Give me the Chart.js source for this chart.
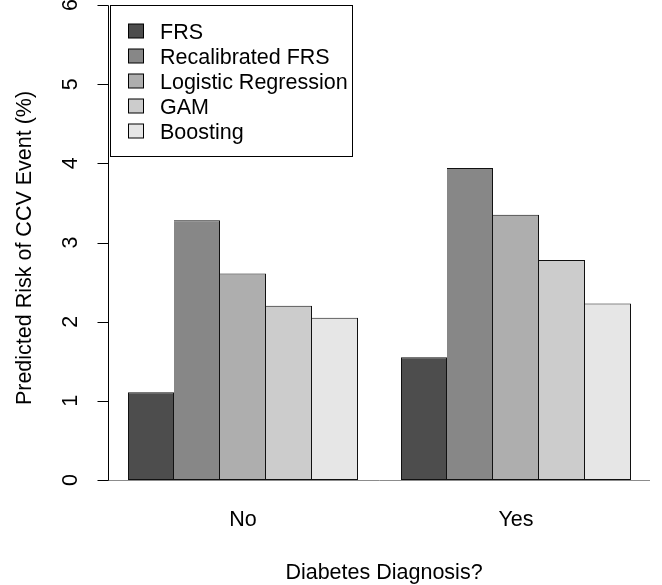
<!DOCTYPE html>
<html>
<head>
<meta charset="utf-8">
<title>Predicted Risk of CCV Event</title>
<script src="https://cdn.jsdelivr.net/npm/chart.js@4/dist/chart.umd.min.js"></script>
<style>
    html, body { margin: 0; padding: 0; background: #ffffff; }
    #wrap { width: 662px; height: 585px; position: relative; }
</style>
</head>
<body>
<div id="wrap"><canvas id="riskChart"></canvas></div>
<script>
// Data
const categories = ['No', 'Yes'];
const seriesNames = ['FRS', 'Recalibrated FRS', 'Logistic Regression', 'GAM', 'Boosting'];
const frs = [1.11, 1.55];
const recalFrs = [3.28, 3.94];
const logistic = [2.61, 3.35];
const gam = [2.20, 2.78];
const boosting = [2.05, 2.23];
const yTicks = [0, 1, 2, 3, 4, 5, 6];

const seriesValues = [frs, recalFrs, logistic, gam, boosting];
const fills = ['#4D4D4D', '#878787', '#AEAEAE', '#CCCCCC', '#E6E6E6'];

const FONT = '21.5px "Liberation Sans", Arial, Helvetica, sans-serif';

// R-style axes, titles and the boxed legend, drawn from the chart's scales
const baseAxes = {
    id: 'baseAxes',
    beforeDatasetsDraw(chart) {
        const { ctx, chartArea, scales } = chart;
        const y0 = Math.round(scales.y.getPixelForValue(0)) + 0.5;
        ctx.save();
        ctx.strokeStyle = '#8c8c8c';
        ctx.lineWidth = 1;
        ctx.beginPath();
        ctx.moveTo(chartArea.left + 2, y0);
        ctx.lineTo(chartArea.right - 2.5, y0);
        ctx.stroke();
        ctx.restore();
    },
    afterDraw(chart) {
        const { ctx, scales } = chart;
        const ys = scales.y;
        const xs = scales.x;
        const axisX = 108.5;

        ctx.save();
        ctx.strokeStyle = '#000000';
        ctx.fillStyle = '#000000';
        ctx.lineWidth = 1;
        ctx.font = FONT;

        // y axis line + ticks
        const top = Math.round(ys.getPixelForValue(yTicks[yTicks.length - 1])) + 0.5;
        const bottom = Math.round(ys.getPixelForValue(yTicks[0])) + 0.5;
        ctx.beginPath();
        ctx.moveTo(axisX, top);
        ctx.lineTo(axisX, bottom);
        yTicks.forEach(v => {
            const py = Math.round(ys.getPixelForValue(v)) + 0.5;
            ctx.moveTo(axisX, py);
            ctx.lineTo(axisX - 11, py);
        });
        ctx.stroke();

        // y tick labels, parallel to the axis
        ctx.textAlign = 'center';
        ctx.textBaseline = 'alphabetic';
        yTicks.forEach(v => {
            ctx.save();
            ctx.translate(77, ys.getPixelForValue(v));
            ctx.rotate(-Math.PI / 2);
            ctx.fillText(String(v), 0, 0);
            ctx.restore();
        });

        // y title
        ctx.save();
        ctx.translate(31, 248);
        ctx.rotate(-Math.PI / 2);
        ctx.fillText('Predicted Risk of CCV Event (%)', 0, 0);
        ctx.restore();

        // x category labels and title
        categories.forEach((c, i) => {
            ctx.fillText(c, xs.getPixelForValue(i), 526);
        });
        ctx.fillText('Diabetes Diagnosis?', 384, 579);

        // legend box (top left of plot)
        ctx.fillStyle = '#ffffff';
        ctx.fillRect(110.5, 5.5, 242, 151);
        ctx.strokeRect(110.5, 5.5, 242, 151);
        ctx.textAlign = 'left';
        chart.data.datasets.forEach((ds, i) => {
            const cy = 31 + i * 25;
            ctx.fillStyle = ds.backgroundColor;
            ctx.fillRect(128.5, cy - 7, 15, 14);
            ctx.strokeRect(128.5, cy - 7, 15, 14);
            ctx.fillStyle = '#000000';
            ctx.fillText(ds.label, 160, cy + 7.5);
        });
        ctx.restore();
    }
};

const datasets = seriesNames.map((name, i) => ({
    label: name,
    data: seriesValues[i],
    backgroundColor: fills[i],
    borderColor: '#111111',
    borderWidth: { top: 1, right: 1, bottom: 1, left: i === 0 ? 1 : 0 },
    borderSkipped: false,
    inflateAmount: 0,
    categoryPercentage: 230 / 273,
    barPercentage: 1.0
}));

new Chart(document.getElementById('riskChart'), {
    type: 'bar',
    data: { labels: categories, datasets: datasets },
    options: {
        responsive: true,
        maintainAspectRatio: false,
        animation: false,
        layout: { padding: { top: 5, bottom: 105, left: 106.5, right: 9.5 } },
        plugins: {
            legend: { display: false },
            tooltip: { enabled: false }
        },
        scales: {
            x: { type: 'category', display: false },
            y: { type: 'linear', min: 0, max: 6, display: false }
        }
    },
    plugins: [baseAxes]
});
</script>
</body>
</html>
